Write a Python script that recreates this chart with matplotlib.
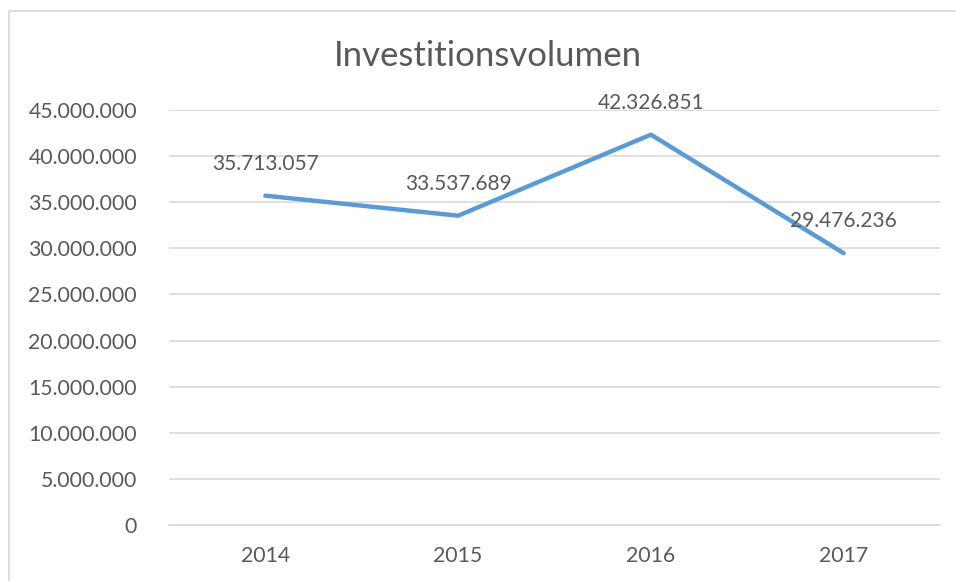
import matplotlib
matplotlib.use("Agg")
import matplotlib.pyplot as plt
from matplotlib.patches import Rectangle
from matplotlib.ticker import FuncFormatter

years = ["2014", "2015", "2016", "2017"]
values = [35713057, 33537689, 42326851, 29476236]
labels = ["35.713.057", "33.537.689", "42.326.851", "29.476.236"]
title = "Investitionsvolumen"

plt.rcParams['font.family'] = ['Lato', 'DejaVu Sans']
txt = '#595959'
grid = '#D9D9D9'

fig = plt.figure(figsize=(9.56, 5.81), dpi=100)
fig.patches.append(Rectangle((9/956, 1 - 11/581), 2, -2, transform=fig.transFigure,
                             fill=False, edgecolor=grid, linewidth=1.2))
ax = fig.add_axes([169/956, 1 - 525/581, (940-169)/956, (525-110)/581])

x = range(len(years))
ax.plot(x, values, color='#5B9BD5', linewidth=3.2, solid_capstyle='round', solid_joinstyle='round', zorder=3)
for xi, v, lab in zip(x, values, labels):
    ax.annotate(lab, (xi, v), xytext=(0, 23), textcoords='offset points',
                ha='center', va='center', fontsize=15, color=txt, zorder=4)

ax.set_xlim(-0.5, 3.5)
ax.set_ylim(0, 45000000)
ax.set_yticks(range(0, 45000001, 5000000))
ax.yaxis.set_major_formatter(FuncFormatter(lambda v, p: f"{int(v):,}".replace(",", ".")))
ax.set_xticks(list(x))
ax.set_xticklabels(years)
ax.tick_params(axis='both', length=0, labelsize=15.3, labelcolor=txt)
ax.tick_params(axis='y', pad=23)
ax.tick_params(axis='x', pad=15)
ax.grid(axis='y', color=grid, linewidth=1.2)
ax.set_axisbelow(True)
for s in ['top', 'right', 'left']:
    ax.spines[s].set_visible(False)
ax.spines['bottom'].set_color(grid)
ax.spines['bottom'].set_linewidth(1.2)

fig.text(488/956, 1 - 56/581, title, ha='center', va='center', fontsize=25, color=txt)

fig.savefig('out.png', dpi=100)
